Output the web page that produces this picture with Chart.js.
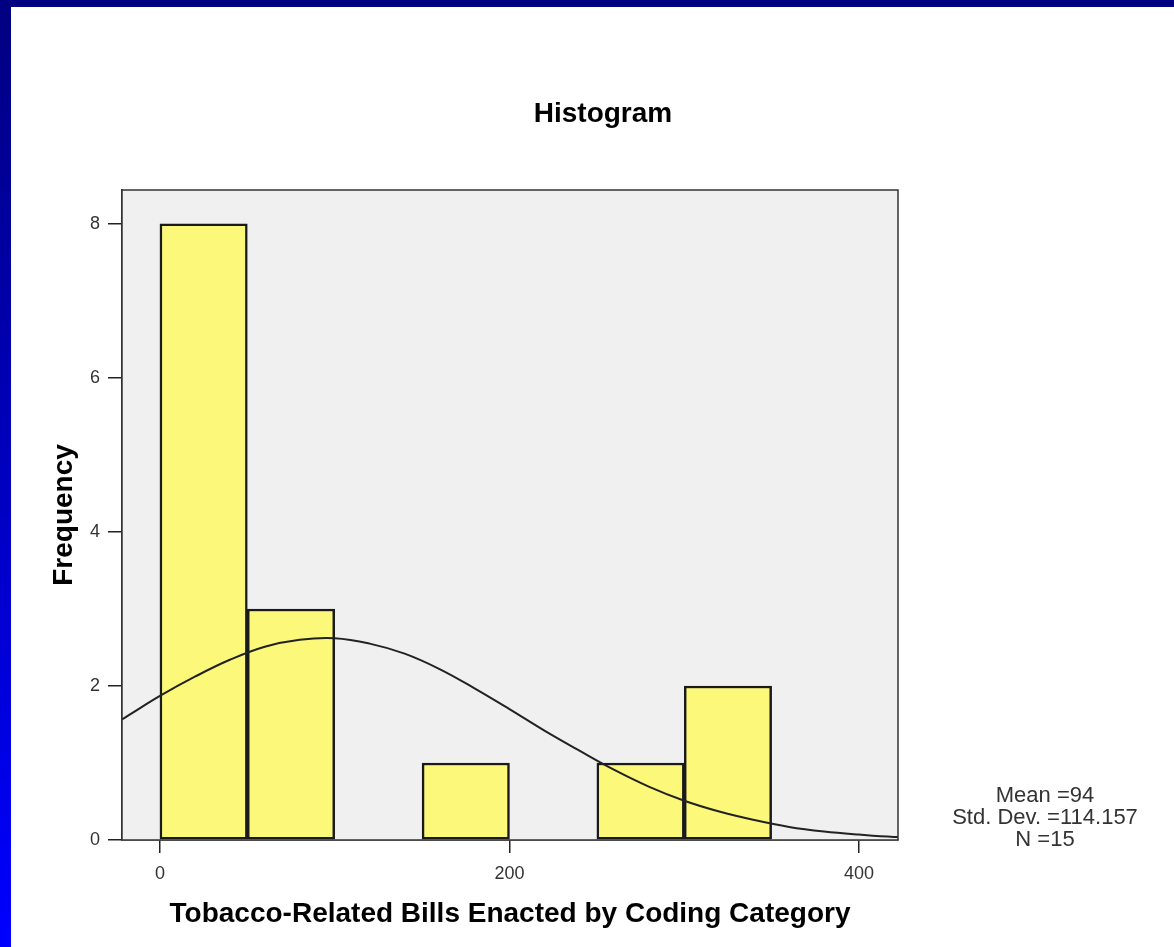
<!DOCTYPE html>
<html>
<head>
<meta charset="utf-8">
<title>Histogram</title>
<script src="https://cdn.jsdelivr.net/npm/chart.js@4/dist/chart.umd.min.js"></script>
<style>
    html, body {
        margin: 0;
        padding: 0;
        background: #ffffff;
        width: 1174px;
        height: 947px;
        overflow: hidden;
    }
    .top-bar {
        position: absolute;
        left: 0;
        top: 0;
        width: 1174px;
        height: 7px;
        background: #000080;
    }
    .left-bar {
        position: absolute;
        left: 0;
        top: 0;
        width: 11px;
        height: 947px;
        background: linear-gradient(to bottom, #000080, #0000ff);
    }
    .chart-box {
        position: absolute;
        left: 11px;
        top: 7px;
        width: 1163px;
        height: 940px;
    }
</style>
</head>
<body>
<div class="top-bar"></div>
<div class="left-bar"></div>
<div class="chart-box"><canvas id="histChart"></canvas></div>

<script>
// Histogram bins (centre of each 50-wide bin) and their counts
const binCenters = [25, 75, 125, 175, 225, 275, 325];
const binCounts = [8, 3, 0, 1, 0, 1, 2];

// Normal curve
const curveX = [-40, -20, 0, 20, 40, 60, 80, 100, 120, 140, 160, 180, 200, 220,
                240, 260, 280, 300, 320, 340, 360, 380, 400, 420, 440];
const curveY = [1.32, 1.59, 1.87, 2.12, 2.34, 2.51, 2.60, 2.62, 2.55, 2.42, 2.22, 1.97, 1.70, 1.42,
                1.16, 0.91, 0.69, 0.51, 0.37, 0.26, 0.17, 0.11, 0.07, 0.04, 0.03];

const xTicks = [0, 200, 400];
const yTicks = [0, 2, 4, 6, 8];

const statLines = ['Mean =94', 'Std. Dev. =114.157', 'N =15'];

const FONT = '"Liberation Sans", Arial, sans-serif';

// Grey plot background + frame, title and stats text
const decorations = {
    id: 'decorations',
    beforeDatasetsDraw(chart) {
        const { ctx, chartArea: a } = chart;
        ctx.save();
        ctx.fillStyle = '#f0f0f0';
        ctx.fillRect(a.left, a.top, a.right - a.left, a.bottom - a.top);
        ctx.restore();
    },
    afterDatasetsDraw(chart) {
        const { ctx, chartArea: a } = chart;
        ctx.save();
        ctx.strokeStyle = '#333';
        ctx.lineWidth = 1.5;
        ctx.strokeRect(a.left, a.top, a.right - a.left, a.bottom - a.top);
        ctx.restore();
    },
    afterDraw(chart) {
        const ctx = chart.ctx;
        ctx.save();
        ctx.textAlign = 'center';
        ctx.textBaseline = 'alphabetic';
        ctx.fillStyle = '#000';
        ctx.font = 'bold 28px ' + FONT;
        ctx.fillText('Histogram', 592, 115);

        ctx.fillStyle = '#333';
        ctx.font = '22px ' + FONT;
        statLines.forEach((line, i) => {
            ctx.fillText(line, 1034, 795 + i * 22);
        });
        ctx.restore();
    }
};

const ctx = document.getElementById('histChart').getContext('2d');
new Chart(ctx, {
    type: 'bar',
    data: {
        datasets: [
            {
                type: 'line',
                data: curveX.map((x, i) => ({ x: x, y: curveY[i] })),
                borderColor: '#222',
                borderWidth: 2,
                pointRadius: 0,
                tension: 0.4,
                fill: false,
                order: 0
            },
            {
                type: 'bar',
                data: binCenters.map((x, i) => ({ x: x, y: binCounts[i] })),
                backgroundColor: '#fcf87a',
                borderColor: '#1a1a1a',
                borderWidth: 2.5,
                borderSkipped: false,
                barPercentage: 1,
                categoryPercentage: 1,
                order: 1
            }
        ]
    },
    plugins: [decorations],
    options: {
        responsive: true,
        maintainAspectRatio: false,
        animation: false,
        layout: {
            padding: { top: 183, left: 0, right: 276, bottom: 0 }
        },
        plugins: {
            legend: { display: false },
            tooltip: { enabled: false },
            title: { display: false }
        },
        scales: {
            x: {
                type: 'linear',
                offset: false,
                min: -21.7,
                max: 422.3,
                afterBuildTicks: axis => {
                    axis.ticks = xTicks.map(v => ({ value: v }));
                },
                afterFit: scale => { scale.height = 107; },
                grid: {
                    offset: false,
                    drawOnChartArea: false,
                    drawTicks: true,
                    tickLength: 13,
                    color: '#222',
                    lineWidth: 1.5
                },
                border: { display: true, color: '#333', width: 1.5 },
                ticks: {
                    color: '#333',
                    padding: 10,
                    maxRotation: 0,
                    font: { family: FONT, size: 18 }
                },
                title: {
                    display: true,
                    text: 'Tobacco-Related Bills Enacted by Coding Category',
                    color: '#000',
                    font: { family: FONT, size: 28, weight: 'bold' },
                    padding: { top: 0, bottom: 16 }
                }
            },
            y: {
                min: 0,
                max: 8.44,
                afterBuildTicks: axis => {
                    axis.ticks = yTicks.map(v => ({ value: v }));
                },
                afterFit: scale => { scale.width = 111; },
                grid: {
                    drawOnChartArea: false,
                    drawTicks: true,
                    tickLength: 14,
                    color: '#222',
                    lineWidth: 1.5
                },
                border: { display: true, color: '#333', width: 1.5 },
                ticks: {
                    color: '#333',
                    padding: 8,
                    font: { family: FONT, size: 18 }
                },
                title: {
                    display: true,
                    text: 'Frequency',
                    color: '#000',
                    font: { family: FONT, size: 28, weight: 'bold' },
                    padding: { top: 36, bottom: 0 }
                }
            }
        }
    }
});
</script>
</body>
</html>
